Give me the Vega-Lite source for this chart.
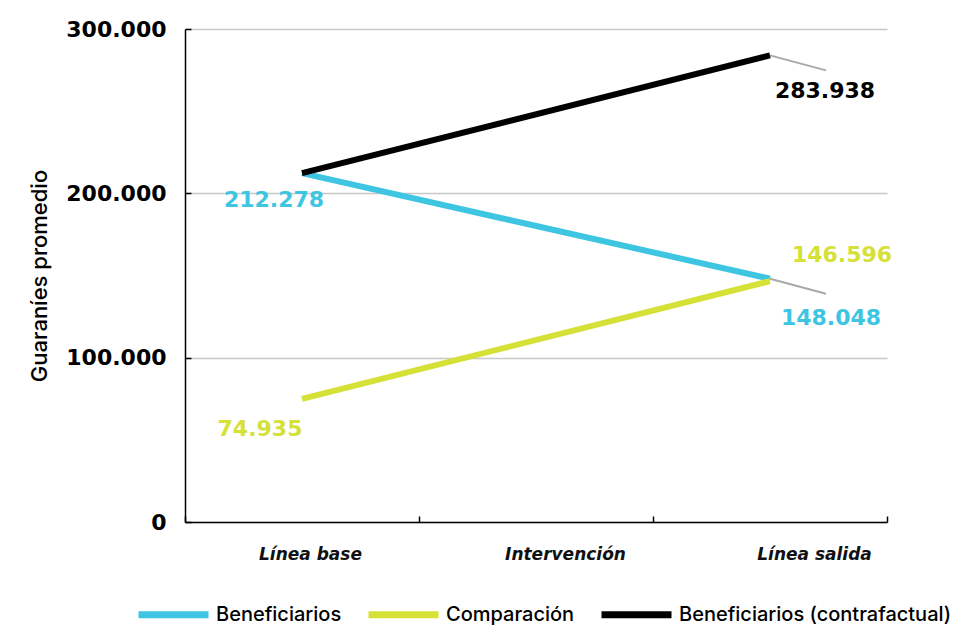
{
  "$schema": "https://vega.github.io/schema/vega-lite/v6.json",
  "width": 702,
  "height": 493,
  "autosize": {"type": "none"},
  "padding": {"left": 185, "top": 29, "right": 80, "bottom": 104},
  "background": "#ffffff",
  "config": {
    "locale": {"number": {"decimal": ",", "thousands": ".", "grouping": [3], "currency": ["", ""]}},
    "view": {"stroke": null},
    "font": "DejaVu Sans"
  },
  "data": {
    "values": [
      {"serie": "Beneficiarios", "momento": "Línea base", "valor": 212278},
      {"serie": "Beneficiarios", "momento": "Línea salida", "valor": 148048},
      {"serie": "Comparación", "momento": "Línea base", "valor": 74935},
      {"serie": "Comparación", "momento": "Línea salida", "valor": 146596},
      {"serie": "Beneficiarios (contrafactual)", "momento": "Línea base", "valor": 212278},
      {"serie": "Beneficiarios (contrafactual)", "momento": "Línea salida", "valor": 283938}
    ]
  },
  "encoding": {
    "x": {
      "field": "momento",
      "type": "nominal",
      "scale": {"type": "band", "domain": ["Línea base", "Intervención", "Línea salida"], "paddingInner": 0, "paddingOuter": 0},
      "axis": {
        "title": null,
        "labelAngle": 0,
        "labelFont": "DejaVu Sans",
        "labelFontStyle": "italic",
        "labelFontWeight": "bold",
        "labelFontSize": 17,
        "labelColor": "#111111",
        "labelPadding": 30,
        "labelOffset": {
          "condition": [
            {"test": "datum.value === 'Línea base'", "value": 8},
            {"test": "datum.value === 'Intervención'", "value": 29}
          ],
          "value": 44
        },
        "tickBand": "extent",
        "tickSize": -6,
        "tickColor": "#000000",
        "tickWidth": 1.5,
        "domainColor": "#000000",
        "domainWidth": 1.5,
        "grid": false
      }
    },
    "y": {
      "field": "valor",
      "type": "quantitative",
      "scale": {"domain": [0, 300000]},
      "axis": {
        "title": "Guaraníes promedio",
        "values": [0, 100000, 200000, 300000],
        "format": ",d",
        "labelFont": "DejaVu Sans",
        "labelFontWeight": "bold",
        "labelFontSize": 22,
        "labelColor": "#000000",
        "labelPadding": 25,
        "tickSize": -6,
        "tickColor": "#000000",
        "tickWidth": 1.5,
        "domainColor": "#000000",
        "domainWidth": 1.5,
        "gridColor": "#c8c8c8",
        "gridWidth": 1.5,
        "titleFont": "Inter",
        "titleFontSize": 22,
        "titleFontWeight": 500,
        "titleColor": "#000000",
        "titlePadding": 14
      }
    }
  },
  "layer": [
    {
      "transform": [{"filter": "datum.momento === 'Línea salida' && datum.serie !== 'Comparación'"}],
      "mark": {"type": "rule", "color": "#a9a9a9", "strokeWidth": 2, "x2Offset": 56, "y2Offset": 15},
      "encoding": {
        "x2": {"field": "momento"},
        "y2": {"field": "valor"}
      }
    },
    {
      "mark": {"type": "line", "strokeWidth": 6, "strokeCap": "butt"},
      "encoding": {
        "color": {
          "field": "serie",
          "type": "nominal",
          "scale": {
            "domain": ["Beneficiarios", "Comparación", "Beneficiarios (contrafactual)"],
            "range": ["#3ec5e2", "#d5e136", "#000000"]
          },
          "legend": {
            "orient": "none",
            "legendX": -50,
            "legendY": 547,
            "direction": "horizontal",
            "title": null,
            "symbolType": "stroke",
            "symbolSize": 4900,
            "symbolStrokeWidth": 7,
            "labelFont": "Inter",
            "labelFontWeight": 500,
            "labelFontSize": 20,
            "labelColor": "#000000",
            "labelOffset": 4,
            "labelLimit": 0,
            "columnPadding": 12
          }
        }
      }
    },
    {
      "transform": [{"filter": "datum.serie === 'Beneficiarios' && datum.momento === 'Línea base'"}],
      "mark": {"type": "text", "font": "DejaVu Sans", "fontWeight": "bold", "fontSize": 22, "fill": "#3ec5e2", "align": "center", "baseline": "middle", "dx": -28, "dy": 27},
      "encoding": {"text": {"field": "valor", "type": "quantitative", "format": ",d"}}
    },
    {
      "transform": [{"filter": "datum.serie === 'Comparación' && datum.momento === 'Línea base'"}],
      "mark": {"type": "text", "font": "DejaVu Sans", "fontWeight": "bold", "fontSize": 22, "fill": "#d5e136", "align": "center", "baseline": "middle", "dx": -42, "dy": 30},
      "encoding": {"text": {"field": "valor", "type": "quantitative", "format": ",d"}}
    },
    {
      "transform": [{"filter": "datum.serie === 'Beneficiarios (contrafactual)' && datum.momento === 'Línea salida'"}],
      "mark": {"type": "text", "font": "DejaVu Sans", "fontWeight": "bold", "fontSize": 22, "fill": "#000000", "align": "center", "baseline": "middle", "dx": 55, "dy": 36},
      "encoding": {"text": {"field": "valor", "type": "quantitative", "format": ",d"}}
    },
    {
      "transform": [{"filter": "datum.serie === 'Beneficiarios' && datum.momento === 'Línea salida'"}],
      "mark": {"type": "text", "font": "DejaVu Sans", "fontWeight": "bold", "fontSize": 22, "fill": "#3ec5e2", "align": "center", "baseline": "middle", "dx": 61, "dy": 39},
      "encoding": {"text": {"field": "valor", "type": "quantitative", "format": ",d"}}
    },
    {
      "transform": [{"filter": "datum.serie === 'Comparación' && datum.momento === 'Línea salida'"}],
      "mark": {"type": "text", "font": "DejaVu Sans", "fontWeight": "bold", "fontSize": 22, "fill": "#d5e136", "align": "center", "baseline": "middle", "dx": 72, "dy": -26},
      "encoding": {"text": {"field": "valor", "type": "quantitative", "format": ",d"}}
    }
  ]
}
